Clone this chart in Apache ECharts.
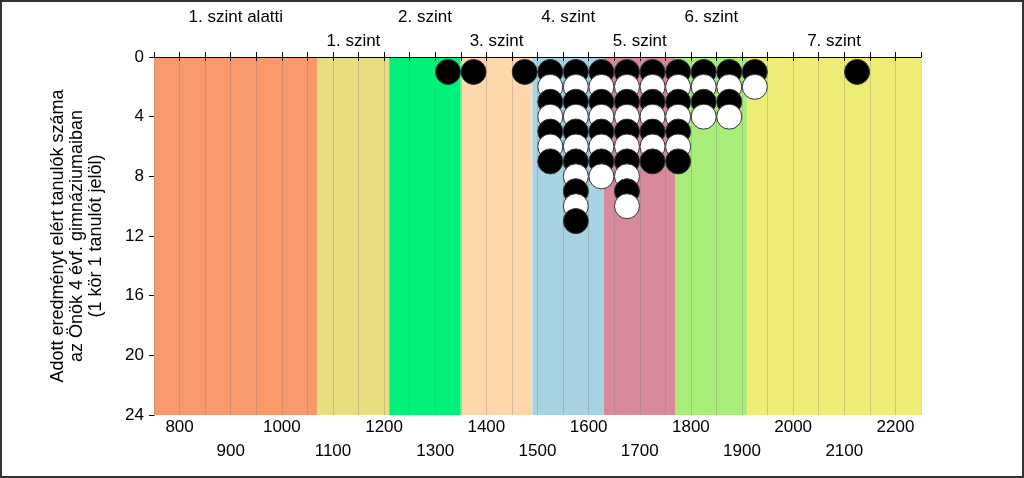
<!DOCTYPE html>
<html>
<head>
<meta charset="utf-8">
<script src="https://cdn.jsdelivr.net/npm/echarts@6/dist/echarts.min.js"></script>
<style>
  html, body { margin: 0; padding: 0; background: #fff; }
  #chart { width: 1024px; height: 478px; }
</style>
</head>
<body>
<div id="chart"></div>
<script>
// level bands (score ranges) and their names
var bandEdges = [750, 1070, 1210, 1350, 1490, 1630, 1770, 1910, 2250];
var bandNames = ['1. szint alatti', '1. szint', '2. szint', '3. szint', '4. szint', '5. szint', '6. szint', '7. szint'];
var bandColors = ['#FA9A6C', '#E8DD80', '#00F27A', '#FFD7AB', '#A7D3E2', '#D88A9C', '#A9EE78', '#EDEC74'];

// students per score bin (bin centres)
var binCenters = [1325, 1375, 1475, 1525, 1575, 1625, 1675, 1725, 1775, 1825, 1875, 1925, 2125];
var studentCounts = [1, 1, 1, 7, 11, 8, 10, 7, 7, 4, 4, 2, 1];

var yTitle = 'Adott eredményt elért tanulók száma\naz Önök 4 évf. gimnáziumaiban\n(1 kör 1 tanulót jelöl)';

var chart = echarts.init(document.getElementById('chart'));

var areas = [];
for (var i = 0; i < bandNames.length; i++) {
    areas.push([
        {
            xAxis: bandEdges[i],
            name: bandNames[i],
            itemStyle: { color: bandColors[i] },
            label: { distance: i % 2 === 0 ? 31 : 7 }
        },
        { xAxis: bandEdges[i + 1] }
    ]);
}

var dots = [];
for (var c = 0; c < binCenters.length; c++) {
    for (var k = 1; k <= studentCounts[c]; k++) {
        dots.push({
            value: [binCenters[c], k],
            itemStyle: { color: k % 2 === 1 ? '#000' : '#fff' }
        });
    }
}

var xLabel = function (v) {
    if (v % 100 !== 0) return '';
    return (v / 100) % 2 === 1 ? '\n' + v : '' + v;
};

var option = {
    animation: false,
    textStyle: { fontFamily: 'Liberation Sans, Arial, sans-serif' },
    graphic: [{
        type: 'rect',
        shape: { x: 1, y: 1, width: 1022, height: 476 },
        style: { fill: null, stroke: '#333', lineWidth: 2 },
        silent: true
    }],
    grid: { left: 154, right: 103, top: 57, bottom: 63 },
    xAxis: [
        {
            type: 'value', position: 'bottom', min: 750, max: 2250, interval: 50, z: 2,
            axisLine: { show: true, lineStyle: { color: '#000' } },
            axisTick: { show: true, length: 4, lineStyle: { color: '#000' } },
            axisLabel: { formatter: xLabel, color: '#000', fontSize: 17, margin: 0, lineHeight: 24, showMinLabel: false, showMaxLabel: false },
            splitLine: { show: true, lineStyle: { color: 'rgba(120,120,120,0.3)', width: 1 } }
        },
        {
            type: 'value', position: 'top', min: 750, max: 2250, interval: 50,
            axisLine: { show: false },
            axisTick: { show: true, length: 5, lineStyle: { color: '#000' } },
            axisLabel: { show: false },
            splitLine: { show: false }
        }
    ],
    yAxis: {
        type: 'value', inverse: true, min: 0, max: 24, interval: 4,
        name: yTitle, nameLocation: 'middle', nameRotate: 90, nameGap: 48,
        nameTextStyle: { color: '#000', fontSize: 18, lineHeight: 19 },
        axisLine: { show: true, lineStyle: { color: '#000' } },
        axisTick: { show: true, length: 5, lineStyle: { color: '#000' } },
        axisLabel: { color: '#000', fontSize: 17, margin: 10 },
        splitLine: { show: false }
    },
    series: [
        {
            type: 'scatter', data: [], z: 1, silent: true,
            markArea: {
                silent: true,
                label: { show: true, position: 'top', color: '#000', fontSize: 17 },
                data: areas
            }
        },
        {
            type: 'scatter', z: 3, symbolSize: 25, silent: true,
            itemStyle: { borderColor: '#333', borderWidth: 1, opacity: 1 },
            data: dots
        }
    ]
};

chart.setOption(option);
</script>
</body>
</html>
